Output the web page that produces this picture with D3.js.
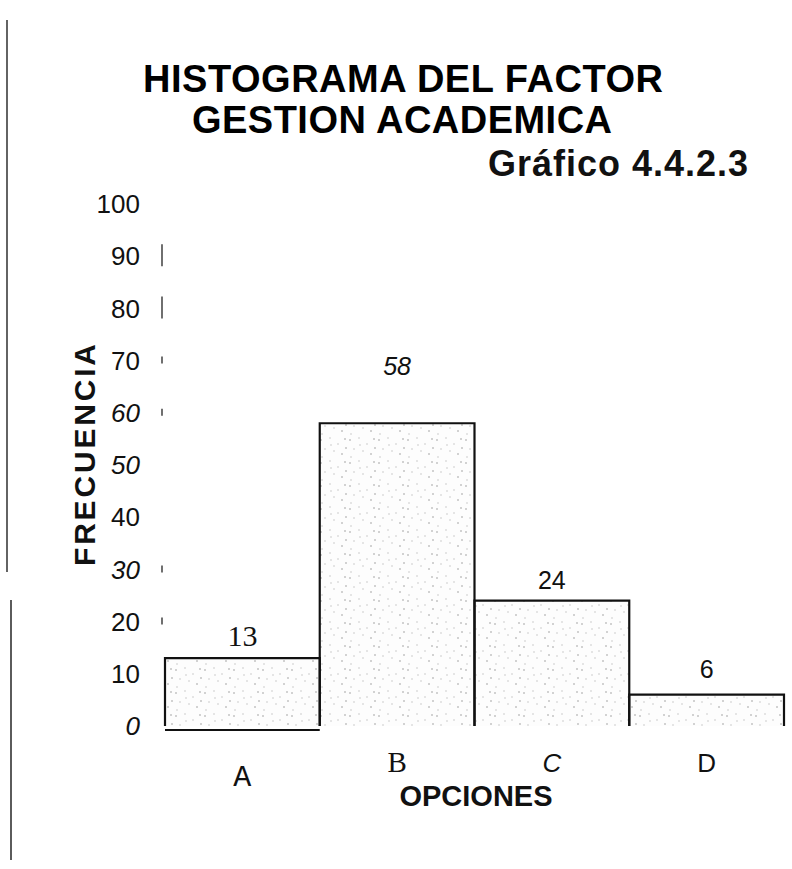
<!DOCTYPE html>
<html>
<head>
<meta charset="utf-8">
<script src="https://cdn.jsdelivr.net/npm/d3@7"></script>
<style>
  html, body { margin: 0; padding: 0; background: #fff; }
  svg { display: block; }
</style>
</head>
<body>
<svg id="chart" width="792" height="869"></svg>
<script>
// Frequency of answers per option
const categories = ["A", "B", "C", "D"];
const frequencies = [13, 58, 24, 6];
const yTickValues = [0, 10, 20, 30, 40, 50, 60, 70, 80, 90, 100];
const yTickLabels = ["0", "10", "20", "30", "40", "50", "60", "70", "80", "90", "100"];
const italicTicks = [0, 30, 50, 60];
const axisStubs = [90, 80, 70, 60, 30, 20];

const titleLines = ["HISTOGRAMA DEL FACTOR", "GESTION ACADEMICA"];
const subtitle = "Gráfico 4.4.2.3";
const yTitle = "FRECUENCIA";
const xTitle = "OPCIONES";

// typefaces of the category and value labels, one per option
const catFonts = [
  { family: "'Liberation Mono', 'DejaVu Sans Mono', monospace", style: "normal", size: 30, dy: 10 },
  { family: "'Liberation Serif', 'DejaVu Serif', serif", style: "normal", size: 29, dy: -4 },
  { family: "'Liberation Sans', Arial, sans-serif", style: "italic", size: 26, dy: -4 },
  { family: "'Liberation Sans', Arial, sans-serif", style: "normal", size: 26, dy: -4 }
];
const valFonts = [
  { family: "'Liberation Serif', 'DejaVu Serif', serif", style: "normal", size: 30, gap: 12 },
  { family: "'Liberation Sans', Arial, sans-serif", style: "italic", size: 25, gap: 48 },
  { family: "'Liberation Sans', Arial, sans-serif", style: "normal", size: 25, gap: 12 },
  { family: "'Liberation Sans', Arial, sans-serif", style: "normal", size: 25, gap: 17 }
];

const sans = "'Liberation Sans', Arial, Helvetica, sans-serif";
const svg = d3.select("#chart");

const x = d3.scaleBand().domain(categories).range([165, 784]).padding(0);
const y = d3.scaleLinear().domain([0, 100]).range([726, 204]);

// stippled fill used inside the bars
const defs = svg.append("defs");
const pat = defs.append("pattern")
  .attr("id", "stipple").attr("patternUnits", "userSpaceOnUse")
  .attr("width", 29).attr("height", 23);
pat.append("rect").attr("width", 29).attr("height", 23).attr("fill", "#fdfdfd");
const dots = [[2,3],[11,1],[19,7],[26,2],[6,12],[15,14],[23,17],[3,20],[12,8],[27,11]];
pat.selectAll("circle").data(dots).join("circle")
  .attr("cx", d => d[0]).attr("cy", d => d[1]).attr("r", 0.7)
  .attr("fill", (d, i) => i % 3 === 0 ? "#888" : "#bbb");

// page edge rules on the left
svg.append("line").attr("x1", 7).attr("x2", 7).attr("y1", 20).attr("y2", 572)
  .attr("stroke", "#222").attr("stroke-width", 1.4);
svg.append("line").attr("x1", 11).attr("x2", 11).attr("y1", 600).attr("y2", 860)
  .attr("stroke", "#333").attr("stroke-width", 1.6);

// titles
svg.append("text").attr("x", 403).attr("y", 92)
  .attr("text-anchor", "middle").attr("font-family", sans).attr("font-weight", "bold")
  .attr("font-size", 38).attr("fill", "#000").attr("textLength", 520).text(titleLines[0]);
svg.append("text").attr("x", 402).attr("y", 133)
  .attr("text-anchor", "middle").attr("font-family", sans).attr("font-weight", "bold")
  .attr("font-size", 38).attr("fill", "#000").attr("textLength", 420).text(titleLines[1]);
svg.append("text").attr("x", 748).attr("y", 176)
  .attr("text-anchor", "end").attr("font-family", sans).attr("font-weight", "bold")
  .attr("font-size", 36).attr("fill", "#111").attr("textLength", 260).text(subtitle);

// y tick labels
svg.append("g").selectAll("text").data(yTickValues).join("text")
  .attr("x", 140).attr("y", d => y(d)).attr("dy", "0.35em")
  .attr("text-anchor", "end").attr("font-family", sans).attr("font-size", 26)
  .attr("font-style", d => italicTicks.includes(d) ? "italic" : "normal")
  .attr("fill", "#111")
  .text((d, i) => yTickLabels[i]);

// remnants of the vertical axis
svg.append("g").selectAll("line").data(axisStubs).join("line")
  .attr("x1", 162).attr("x2", 162)
  .attr("y1", d => y(d) - (d >= 80 ? 12 : 4)).attr("y2", d => y(d) + (d >= 80 ? 10 : 3))
  .attr("stroke", "#222").attr("stroke-width", 1.3);

// y axis title
svg.append("text")
  .attr("transform", "translate(95, 455) rotate(-90)")
  .attr("text-anchor", "middle").attr("font-family", sans).attr("font-weight", "bold")
  .attr("font-size", 30).attr("fill", "#111").attr("textLength", 222).text(yTitle);

// bars
const bars = svg.append("g");
const data = categories.map((c, i) => ({ c, v: frequencies[i], i }));
bars.selectAll("rect").data(data).join("rect")
  .attr("x", d => x(d.c)).attr("y", d => y(d.v))
  .attr("width", x.bandwidth()).attr("height", d => y(0) - y(d.v))
  .attr("fill", "url(#stipple)");
bars.selectAll("path").data(data).join("path")
  .attr("d", d => {
    const x0 = x(d.c), x1 = x(d.c) + x.bandwidth(), yt = y(d.v), yb = y(0);
    let p = `M${x0},${yb}V${yt}H${x1}V${yb}`;
    if (d.i === 0) p += `M${x0},${yb + 4}H${x1}`;
    return p;
  })
  .attr("fill", "none").attr("stroke", "#111").attr("stroke-width", 2.2);

// value labels above bars
svg.append("g").selectAll("text").data(data).join("text")
  .attr("x", d => x(d.c) + x.bandwidth() / 2)
  .attr("y", d => y(d.v) - valFonts[d.i].gap)
  .attr("text-anchor", "middle")
  .attr("font-family", d => valFonts[d.i].family)
  .attr("font-style", d => valFonts[d.i].style)
  .attr("font-size", d => valFonts[d.i].size)
  .attr("fill", "#111")
  .text(d => d.v);

// category labels
svg.append("g").selectAll("text").data(data).join("text")
  .attr("x", d => x(d.c) + x.bandwidth() / 2)
  .attr("y", d => y(0) + 50 + catFonts[d.i].dy)
  .attr("text-anchor", "middle")
  .attr("font-family", d => catFonts[d.i].family)
  .attr("font-style", d => catFonts[d.i].style)
  .attr("font-size", d => catFonts[d.i].size)
  .attr("fill", "#111")
  .text(d => d.c);

// x axis title
svg.append("text").attr("x", 476).attr("y", 806)
  .attr("text-anchor", "middle").attr("font-family", sans).attr("font-weight", "bold")
  .attr("font-size", 29).attr("fill", "#111").text(xTitle);
</script>
</body>
</html>
